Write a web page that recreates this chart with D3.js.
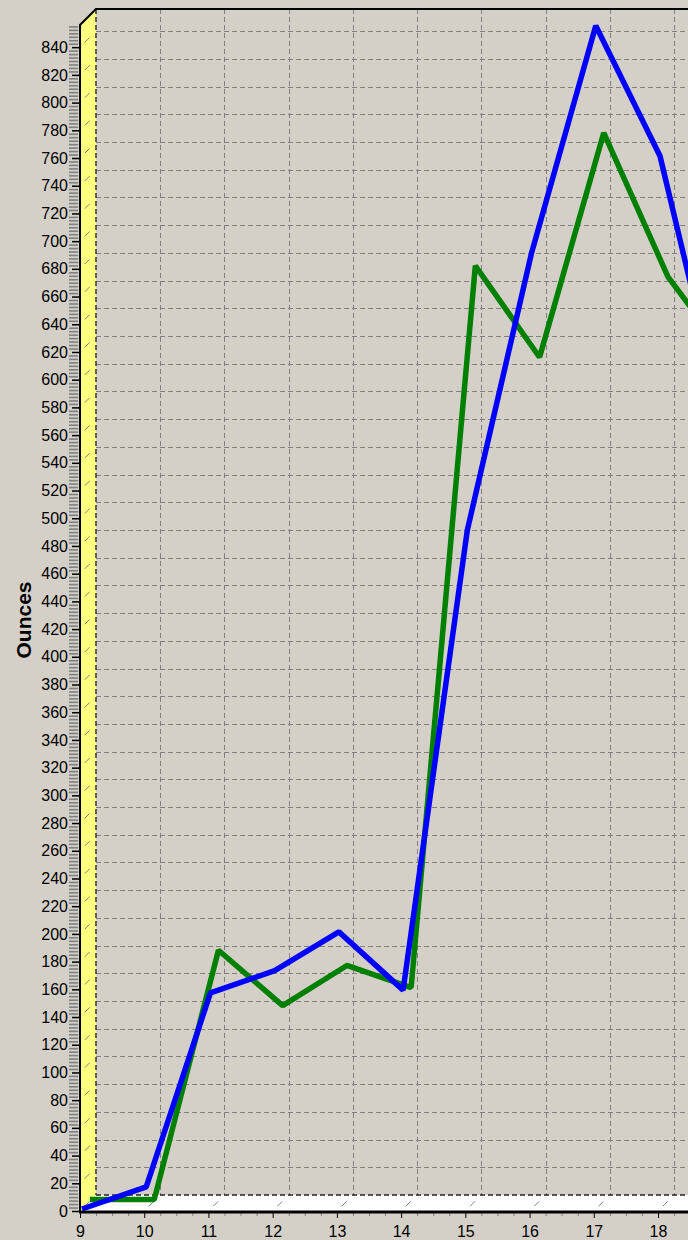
<!DOCTYPE html>
<html>
<head>
<meta charset="utf-8">
<script src="https://cdn.jsdelivr.net/npm/d3@7"></script>
<style>
  html, body { margin: 0; padding: 0; background: #d4d0c8; overflow: hidden; }
  svg { display: block; font-family: "Liberation Sans", Arial, sans-serif; }
</style>
</head>
<body>
<script>
"use strict"

// Data
const hours        = [9, 10, 11, 12, 13, 14, 15, 16, 17, 18, 19]
const blueOunces   = [0, 16, 156, 172, 200, 158, 490, 690, 854, 760, 566]
const greenOunces  = [1, 1, 181, 141, 170, 154, 675, 609, 771, 667, 605]
const hourTicks    = [9, 10, 11, 12, 13, 14, 15, 16, 17, 18]
const ounceTicks   = d3.range(0, 841, 20)
const yTitle       = "Ounces"

const width  = 688
const height = 1240
const depth  = 16
const wallColor = "#ffff80"
const gridColor = "#808080"

const x = d3.scaleLinear().domain([9, 18]).range([80, 658])
const y = d3.scaleLinear().domain([0, 856]).range([1211, 25])

const [x0] = x.range()
const [y0, yTop] = y.range()

const svg = d3.select("body").append("svg")
  .attr("width", width)
  .attr("height", height)

// back wall grid
const grid = svg.append("g").attr("class", "grid").attr("shape-rendering", "crispEdges")
grid.selectAll(".hgrid").data(ounceTicks.filter(v => v > 0)).enter()
  .append("line")
  .attr("class", "hgrid")
  .attr("x1", x0 + depth)
  .attr("x2", width)
  .attr("y1", v => Math.round(y(v) - depth) + 0.5)
  .attr("y2", v => Math.round(y(v) - depth) + 0.5)
  .attr("stroke", gridColor)
  .attr("stroke-dasharray", "5,3")

grid.selectAll(".vgrid").data(hourTicks.filter(h => h > 9)).enter()
  .append("line")
  .attr("class", "vgrid")
  .attr("x1", h => Math.round(x(h) + depth) + 0.5)
  .attr("x2", h => Math.round(x(h) + depth) + 0.5)
  .attr("y1", yTop - depth)
  .attr("y2", y0 - depth)
  .attr("stroke", gridColor)
  .attr("stroke-dasharray", "5,3")

// floor
svg.append("path")
  .attr("d", `M${x0},${y0} L${x0 + depth},${y0 - depth} H${width} V${y0} Z`)
  .attr("fill", "#fff")

svg.selectAll(".floor-tick").data(hourTicks).enter()
  .append("line")
  .attr("x1", h => x(h) + depth * 0.3)
  .attr("y1", y0 - depth * 0.3)
  .attr("x2", h => x(h) + depth * 0.6)
  .attr("y2", y0 - depth * 0.6)
  .attr("stroke", gridColor)

svg.append("line")
  .attr("x1", x0 + depth).attr("x2", width)
  .attr("y1", y0 - depth).attr("y2", y0 - depth)
  .attr("stroke", "#222")
  .attr("stroke-width", 1.5)
  .attr("stroke-dasharray", "5,3")

// left wall
svg.append("path")
  .attr("d", `M${x0},${y0} V${yTop} L${x0 + depth},${yTop - depth} V${y0 - depth} Z`)
  .attr("fill", wallColor)

svg.selectAll(".wall-tick").data(ounceTicks).enter()
  .append("line")
  .attr("x1", x0 + depth * 0.3)
  .attr("y1", v => y(v) - depth * 0.3)
  .attr("x2", x0 + depth * 0.6)
  .attr("y2", v => y(v) - depth * 0.6)
  .attr("stroke", gridColor)

svg.append("line")
  .attr("x1", x0 + depth).attr("x2", x0 + depth)
  .attr("y1", yTop - depth).attr("y2", y0 - depth)
  .attr("stroke", "#333")
  .attr("stroke-width", 1.5)
  .attr("stroke-dasharray", "5,3")

svg.append("path")
  .attr("d", `M${x0},${y0 + 1} V${yTop} L${x0 + depth},${yTop - depth} H${width}`)
  .attr("fill", "none")
  .attr("stroke", "#000")
  .attr("stroke-width", 2)

// series, each at its own depth slice
const series = [
  { name : "green", color : "#008000", offset : 10, values : greenOunces },
  { name : "blue",  color : "#0000ff", offset : 2,  values : blueOunces },
]

series.forEach(({ color, offset, values }) => {
  const line = d3.line()
    .x((_, i) => x(hours[i]) + offset)
    .y(v => y(v) - offset)
  svg.append("path")
    .datum(values)
    .attr("d", line)
    .attr("fill", "none")
    .attr("stroke", color)
    .attr("stroke-width", 5.5)
    .attr("stroke-linejoin", "bevel")
})

// y axis
const minorOunces = d3.range(0, 857, 2.5).filter(v => v % 20 !== 0)
svg.append("g")
  .attr("transform", `translate(${x0 - 2},0)`)
  .call(d3.axisLeft(y).tickValues(minorOunces).tickSize(9).tickFormat(""))
  .call(g => g.select(".domain").remove())
  .call(g => g.selectAll("line").attr("stroke", gridColor).attr("stroke-width", 1.6))

svg.append("g")
  .attr("transform", `translate(${x0},0)`)
  .call(d3.axisLeft(y).tickValues(ounceTicks).tickSize(8).tickPadding(4))
  .call(g => g.select(".domain").remove())
  .call(g => g.selectAll("line").attr("stroke", "#000").attr("stroke-width", 1.5))
  .call(g => g.selectAll("text").attr("font-size", 16).attr("fill", "#000").attr("font-family", "'Liberation Sans', Arial, sans-serif"))

// x axis
const minorHours = d3.range(9, 19.01, 0.25).filter(h => h % 1 !== 0)
svg.append("g")
  .attr("transform", `translate(0,${y0 + 1})`)
  .call(d3.axisBottom(x).tickValues(minorHours).tickSize(4).tickFormat(""))
  .call(g => g.select(".domain").remove())
  .call(g => g.selectAll("line").attr("stroke", gridColor))

svg.append("g")
  .attr("transform", `translate(0,${y0 + 1})`)
  .call(d3.axisBottom(x).tickValues(hourTicks).tickSize(6).tickPadding(8))
  .call(g => g.select(".domain").remove())
  .call(g => g.selectAll("line").attr("stroke", "#000"))
  .call(g => g.selectAll("text").attr("font-size", 16).attr("fill", "#000").attr("font-family", "'Liberation Sans', Arial, sans-serif"))

svg.append("line")
  .attr("x1", x0 - 1).attr("x2", width)
  .attr("y1", y0 + 1).attr("y2", y0 + 1)
  .attr("stroke", "#000")
  .attr("stroke-width", 3)

// axis title
svg.append("text")
  .attr("transform", `translate(31,620) rotate(-90)`)
  .attr("text-anchor", "middle")
  .attr("font-size", 21)
  .attr("font-weight", "bold")
  .text(yTitle)
</script>
</body>
</html>
